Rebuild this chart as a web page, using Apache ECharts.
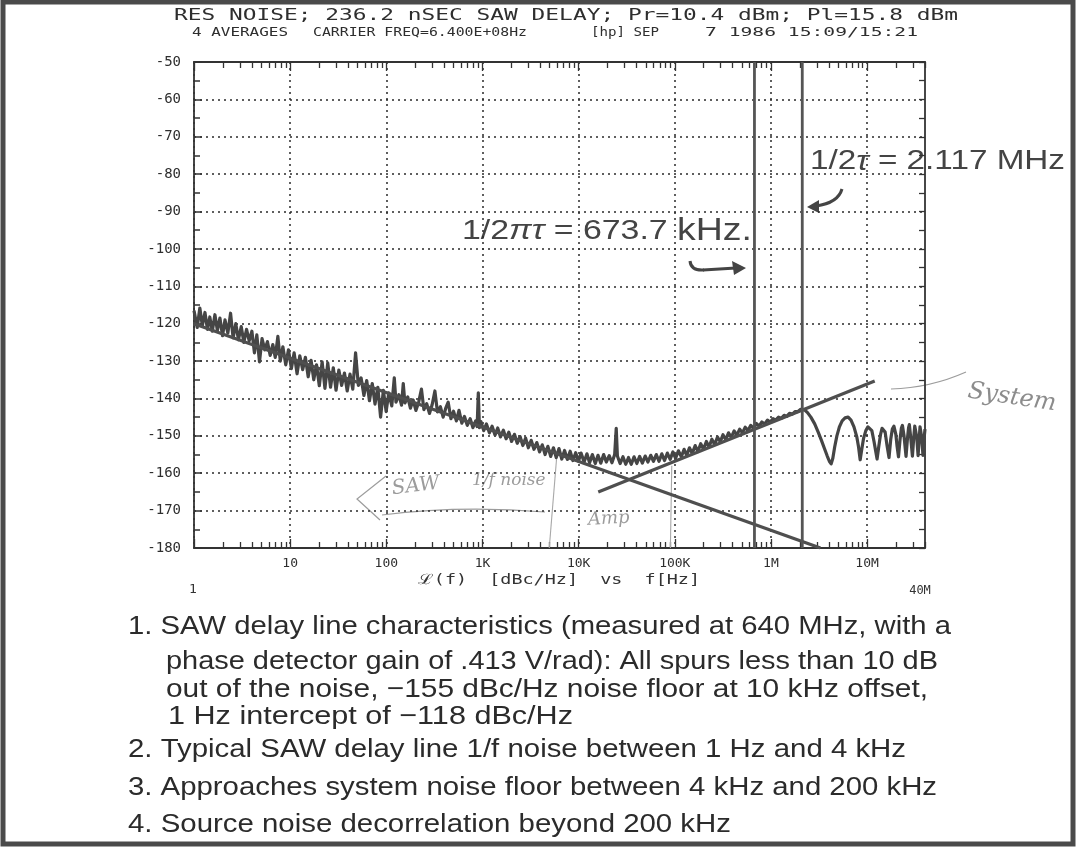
<!DOCTYPE html>
<html><head><meta charset="utf-8">
<script src="https://cdn.jsdelivr.net/npm/echarts@6/dist/echarts.min.js"></script>
<style>html,body{margin:0;padding:0;background:#fff}#c{width:1077px;height:849px}</style>
</head><body><div id="c"></div>
<script>
// ---------------- DATA ----------------
const xDecades = [1, 10, 100, 1e3, 1e4, 1e5, 1e6, 1e7];
const xLabelValues = [10, 100, 1e3, 1e4, 1e5, 1e6, 1e7];
const xLabelTexts = ['10', '100', '1K', '10K', '100K', '1M', '10M'];
const minorMultipliers = [2, 3, 4, 5, 6, 7, 8, 9];
const yMin = -180, yMax = -50, yStep = 10;

const traceFreq = [
  1.00,1.08,1.15,1.22,1.30,1.38,1.46,1.55,1.65,1.75,1.86,1.98,2.10,2.25,2.40,2.55,2.72,2.90,3.10,3.30,3.52,3.75,4.00,4.25,4.50,4.80,5.10,5.45,5.80,6.20,6.60,7.00,7.45,7.90,8.40,9.00,9.60,
  10.3,11.0,11.8,12.6,13.5,14.4,15.4,16.5,17.6,18.8,20.1,21.5,23.0,24.6,26.3,28.1,30.0,32.1,34.3,36.7,39.2,41.9,44.8,47.9,51.2,54.7,58.5,62.5,66.8,71.4,76.3,81.6,87.2,93.2,
  99.6,106,114,121,126,135,144,150,156,167,178,190,203,217,232,246,263,281,300,320,340,365,390,415,440,470,500,535,570,610,650,695,745,795,850,880,905,930,965,
  1030,1100,1180,1260,1350,1440,1540,1650,1760,1880,2010,2150,2300,2460,2630,2810,3000,3210,3430,3670,3920,4190,4480,4790,5120,5470,5850,6250,6680,7140,7630,8160,8720,9320,9960,
  10600,11400,12200,13000,13900,14900,15900,17000,18200,19400,20800,22200,23700,24600,25300,27000,28900,30900,33000,35300,37700,40300,43100,46000,49200,52600,56200,60000,64200,68600,73300,78300,83700,89500,95600,
  102000,109000,117000,125000,133000,142000,152000,163000,174000,186000,199000,213000,227000,243000,260000,278000,297000,317000,339000,362000,387000,414000,442000,473000,505000,540000,577000,617000,659000,705000,753000,805000,860000,919000,982000,
  1050000,1120000,1200000,1280000,1370000,1460000,1560000,1670000,1790000,1910000,2040000,2120000,2250000,2400000,2600000,2850000,3100000,3350000,3600000,3850000,4050000,4230000,4400000,4600000,4850000,5150000,5500000,5900000,6350000,6800000,7300000,7800000,8150000,8470000,8800000,9200000,9700000,
  10200000,10600000,11200000,11800000,12300000,12700000,13200000,13800000,14300000,14800000,15400000,16100000,16900000,17600000,18300000,19000000,19900000,20500000,21200000,22000000,22700000,23300000,24200000,25400000,26300000,27000000,27500000,28400000,29600000,30600000,31300000,31800000,32800000,33900000,34900000,35500000,36000000,37000000,38100000,39000000,40000000
];
const traceDb = [
  -116.5,-121.0,-115.8,-120.5,-117.0,-121.5,-118.2,-122.0,-117.6,-121.8,-118.5,-123.2,-119.0,-122.5,-117.2,-123.8,-120.0,-124.3,-120.8,-125.0,-121.5,-124.6,-122.0,-127.8,-123.0,-130.2,-124.0,-127.0,-124.8,-128.5,-125.6,-129.0,-123.4,-130.0,-126.2,-131.0,-127.0,
  -132.0,-127.8,-133.4,-128.6,-132.3,-129.0,-134.2,-129.8,-135.0,-131.0,-136.6,-130.2,-137.3,-130.5,-137.0,-131.8,-137.8,-132.4,-136.5,-133.2,-138.0,-133.5,-137.5,-127.8,-136.5,-134.5,-139.2,-135.2,-140.6,-136.0,-141.5,-137.0,-145.0,-137.8,
  -143.5,-138.5,-142.0,-134.5,-141.0,-139.0,-141.8,-136.0,-141.2,-139.6,-142.6,-140.4,-143.2,-141.0,-137.5,-143.0,-141.4,-144.0,-141.6,-138.0,-143.6,-142.2,-145.0,-142.6,-141.0,-145.4,-143.4,-146.0,-143.2,-146.6,-144.8,-147.2,-145.4,-147.8,-146.0,-147.5,-138.5,-147.8,-146.2,
  -148.6,-146.8,-149.2,-147.4,-149.8,-147.9,-150.3,-148.5,-150.8,-149.0,-151.5,-149.6,-152.0,-150.2,-152.6,-150.6,-153.2,-151.2,-153.6,-151.8,-154.3,-152.4,-155.0,-152.8,-155.5,-153.2,-155.8,-153.4,-156.2,-153.9,-156.3,-154.1,-156.6,-154.5,-156.8,
  -154.6,-157.0,-154.8,-157.2,-155.0,-157.4,-155.2,-157.3,-155.0,-157.0,-155.3,-157.2,-155.0,-148.0,-155.4,-157.4,-155.6,-157.6,-155.8,-157.6,-155.6,-157.4,-155.5,-157.3,-155.4,-157.0,-155.2,-156.8,-155.0,-156.8,-154.8,-156.6,-154.6,-156.3,-154.3,
  -156.0,-154.0,-155.6,-153.6,-155.2,-153.2,-154.7,-152.6,-154.2,-152.1,-153.6,-151.5,-153.0,-150.9,-152.3,-150.3,-151.6,-149.7,-151.0,-149.2,-150.4,-148.7,-149.8,-148.2,-149.2,-147.7,-148.6,-147.2,-148.0,-146.7,-147.4,-146.3,-146.9,-145.8,-146.3,
  -145.4,-145.8,-145.0,-145.3,-144.5,-144.8,-144.0,-144.2,-143.5,-143.5,-142.9,-142.8,-143.1,-143.8,-145.0,-146.8,-149.0,-151.2,-153.4,-155.4,-156.8,-157.5,-156.0,-153.0,-150.0,-147.6,-146.0,-145.2,-145.0,-145.8,-147.6,-150.2,-153.0,-156.4,-153.6,-150.6,-148.6,
  -147.6,-147.4,-148.6,-151.5,-154.2,-156.2,-153.0,-149.6,-148.0,-147.6,-149.0,-152.5,-155.8,-151.0,-148.2,-147.4,-149.6,-152.8,-155.6,-151.0,-148.0,-147.2,-150.0,-155.5,-150.6,-147.8,-147.0,-150.4,-155.4,-150.2,-147.4,-147.0,-150.3,-155.3,-150.4,-147.6,-147.2,-150.5,-155.2,-151.0,-148.2
];
// hand-drawn asymptotes
const sawFloorFreq = [1, 3.27e6];
const sawFloorDb = [-120, -180];
const systemFreq = [1.6e4, 1.2e7];
const systemDb = [-165, -135.3];
// vertical markers 1/2πτ and 1/2τ
const markerFreq = [673700, 2117000];
// pencil divider lines
const dividerFreq = [[5900, 4950], [93000, 90000]];
const dividerDb = [[-156, -180], [-158, -180]];

const titleLine1 = 'RES NOISE; 236.2 nSEC SAW DELAY; Pr=10.4 dBm; Pl=15.8 dBm';
const titleLine2 = ['4 AVERAGES', 'CARRIER FREQ=6.400E+08Hz', '[hp] SEP', '7 1986 15:09/15:21'];
const axisTitle = 'ℒ(f)  [dBc/Hz]  vs  f[Hz]';
const axisStart = '1', axisEnd = '40M';
const notes = [
  '1. SAW delay line characteristics (measured at 640 MHz, with a',
  'phase detector gain of .413 V/rad): All spurs less than 10 dB',
  'out of the noise, \u2212155 dBc/Hz noise floor at 10 kHz offset,',
  '1 Hz intercept of \u2212118 dBc/Hz',
  '2. Typical SAW delay line 1/f noise between 1 Hz and 4 kHz',
  '3. Approaches system noise floor between 4 kHz and 200 kHz',
  '4. Source noise decorrelation beyond 200 kHz'
];
const pencil = ['SAW', '1/f noise', 'Amp', 'System'];

// ---------------- LAYOUT / STYLE ----------------
const MONO = '"DejaVu Sans Mono", "Liberation Mono", monospace';
const SANS = '"Liberation Sans", Arial, sans-serif';
const INK = '#3c3c3c';
const cv = document.createElement('canvas').getContext('2d');
function measure(str, size, family, style, weight) {
  cv.font = (style || 'normal') + ' ' + (weight || 'normal') + ' ' + size + 'px ' + family;
  return cv.measureText(str).width;
}
function fitText(str, x, y, w, size, family, fill, extra) {
  const s = w / measure(str, size, family);
  return Object.assign({
    type: 'text', x: x, y: y, scaleX: s, silent: true,
    style: { text: str, x: 0, y: 0, fontSize: size, fontFamily: family, fill: fill || INK, align: 'left', verticalAlign: 'middle' }
  }, extra || {});
}

const noteLayout = [[128, 627, 823], [166, 662, 772], [166, 690, 762], [168, 717, 405], [128, 750, 778], [128, 788, 809], [128, 825, 603]];
const title2Layout = [[192, 33, 96], [313, 33, 214], [591, 33, 68], [705, 33, 213]];

const graphics = [];
graphics.push({ type: 'rect', silent: true, shape: { x: 3, y: 2, width: 1070, height: 842 }, style: { fill: null, stroke: '#4a4a4a', lineWidth: 5 } });
graphics.push(fitText(titleLine1, 174, 16, 784, 16, MONO, '#2e2e2e'));
titleLine2.forEach((t, i) => { const L = title2Layout[i]; graphics.push(fitText(t, L[0], L[1], L[2], 12, MONO, '#2e2e2e')); });
graphics.push(fitText(axisTitle, 418, 580, 282, 14, MONO, '#333'));
graphics.push({ type: 'text', x: 193, y: 590, silent: true, style: { text: axisStart, fontSize: 13, fontFamily: MONO, fill: '#333', align: 'center', verticalAlign: 'middle' } });
graphics.push({ type: 'text', x: 920, y: 591, silent: true, style: { text: axisEnd, fontSize: 12, fontFamily: MONO, fill: '#333', align: 'center', verticalAlign: 'middle' } });
notes.forEach((t, i) => { const L = noteLayout[i]; graphics.push(fitText(t, L[0], L[1], L[2], 26, SANS, '#2b2b2b')); });

// printed annotations
(function () {
  const parts1 = [['1/2', 'n', 28], ['πτ', 'i', 28], [' = 673.7 ', 'n', 28], ['kHz.', 'n', 31]];
  const parts2 = [['1/2', 'n', 27], ['τ', 'i', 27], [' = 2.117 MHz', 'n', 27]];
  function rich(parts, x, y, w) {
    let tw = 0; let txt = '';
    const richStyles = {};
    parts.forEach((p, k) => {
      tw += measure(p[0], p[2], SANS, p[1] === 'i' ? 'italic' : 'normal');
      richStyles['p' + k] = { fontSize: p[2], fontFamily: SANS, fontStyle: p[1] === 'i' ? 'italic' : 'normal', fill: '#444' };
      txt += '{p' + k + '|' + p[0] + '}';
    });
    return { type: 'text', x: x, y: y, scaleX: w / tw, silent: true, style: { text: txt, rich: richStyles, x: 0, y: 0, align: 'left', verticalAlign: 'middle', fill: '#444' } };
  }
  graphics.push(rich(parts1, 462, 231, 290));
  graphics.push(rich(parts2, 810, 162, 255));
})();
// printed arrows
function qcurve(x1, y1, cx, cy, x2, y2, stroke, w) {
  return { type: 'bezierCurve', silent: true, shape: { x1: x1, y1: y1, cpx1: cx, cpy1: cy, x2: x2, y2: y2 }, style: { fill: null, stroke: stroke, lineWidth: w } };
}
graphics.push(qcurve(690, 261, 691, 271, 704, 270, '#444', 3));
graphics.push({ type: 'line', silent: true, shape: { x1: 703, y1: 270, x2: 736, y2: 268 }, style: { stroke: '#444', lineWidth: 3 } });
graphics.push({ type: 'polygon', silent: true, shape: { points: [[746, 268], [732, 261], [734, 275]] }, style: { fill: '#444' } });
graphics.push(qcurve(842, 189, 838, 203, 816, 206, '#444', 3));
graphics.push({ type: 'polygon', silent: true, shape: { points: [[807, 207], [819, 200], [819, 213]] }, style: { fill: '#444' } });
// pencil notes
const PEN = '#9c9c9c';
const PENFONT = '"DejaVu Serif", serif';
graphics.push({ type: 'text', x: 392, y: 489, rotation: 0.12, silent: true, style: { text: pencil[0], fontSize: 20, fontFamily: PENFONT, fontStyle: 'italic', fill: PEN, align: 'left', verticalAlign: 'middle' } });
graphics.push({ type: 'text', x: 472, y: 481, silent: true, style: { text: pencil[1], fontSize: 17, fontFamily: PENFONT, fontStyle: 'italic', fill: PEN, align: 'left', verticalAlign: 'middle' } });
graphics.push({ type: 'text', x: 588, y: 520, rotation: 0.05, silent: true, style: { text: pencil[2], fontSize: 18, fontFamily: PENFONT, fontStyle: 'italic', fill: PEN, align: 'left', verticalAlign: 'middle' } });
graphics.push({ type: 'text', x: 968, y: 391, rotation: -0.15, silent: true, style: { text: pencil[3], fontSize: 24, fontFamily: PENFONT, fontStyle: 'italic', fill: '#8c8c8c', align: 'left', verticalAlign: 'middle' } });
graphics.push({ type: 'polyline', silent: true, shape: { points: [[386, 476], [357, 499], [380, 520]] }, style: { stroke: PEN, lineWidth: 1.2, fill: null } });
graphics.push(qcurve(382, 515, 460, 505, 545, 512, PEN, 1.2));
graphics.push(qcurve(891, 389, 930, 388, 966, 372, PEN, 1.2));

// ---------------- CHART ----------------
const minorTicks = [];
xDecades.forEach(d => minorMultipliers.forEach(m => { if (d * m <= 4e7) minorTicks.push(d * m); }));
const logFmt = v => xLabelTexts[xLabelValues.findIndex(t => Math.abs(Math.log10(t) - Math.log10(v)) < 1e-6)] || '';
const GRIDLINE = { show: true, lineStyle: { type: [2, 4], color: '#2a2a2a', width: 1.5 } };
function xAx(pos, ticks, len, extra) {
  return Object.assign({
    type: 'log', logBase: 10, min: 1, max: 4e7, position: pos,
    axisLine: { show: false },
    axisTick: { show: true, inside: true, length: len, customValues: ticks, lineStyle: { color: '#333', width: 1.3 } },
    axisLabel: { show: false }, splitLine: { show: false }
  }, extra || {});
}
const option = {
  animation: false,
  backgroundColor: '#fff',
  grid: { left: 194, top: 62, width: 731, height: 486, containLabel: false },
  xAxis: [
    xAx('bottom', xDecades, 9, {
      axisLine: { show: true, onZero: false, lineStyle: { color: '#333', width: 1.8 } },
      axisLabel: { show: true, customValues: xLabelValues, formatter: logFmt, fontFamily: MONO, fontSize: 13, color: '#2e2e2e', margin: 9 },
      splitLine: GRIDLINE
    }),
    xAx('bottom', minorTicks, 6),
    xAx('top', xDecades, 9, { axisLine: { show: true, onZero: false, lineStyle: { color: '#333', width: 1.8 } } }),
    xAx('top', minorTicks, 6)
  ],
  yAxis: [
    {
      type: 'value', min: yMin, max: yMax, interval: yStep, position: 'left',
      axisLine: { show: true, onZero: false, lineStyle: { color: '#333', width: 1.8 } },
      axisTick: { show: true, inside: true, length: 8, lineStyle: { color: '#333', width: 1.5 } },
      minorTick: { show: true, splitNumber: 2, length: 6, lineStyle: { color: '#333', width: 1.5 } },
      axisLabel: { fontFamily: MONO, fontSize: 14, color: '#2e2e2e', margin: 13 },
      splitLine: GRIDLINE
    },
    {
      type: 'value', min: yMin, max: yMax, interval: yStep, position: 'right',
      axisLine: { show: true, onZero: false, lineStyle: { color: '#333', width: 1.8 } },
      axisTick: { show: true, inside: true, length: 6, lineStyle: { color: '#333', width: 1.3 } },
      minorTick: { show: true, splitNumber: 2, length: 6, lineStyle: { color: '#333', width: 1.3 } },
      axisLabel: { show: false }, splitLine: { show: false }
    }
  ],
  series: [
    { type: 'line', name: 'noise', data: traceFreq.map((f, i) => [f, traceDb[i]]), symbol: 'none', lineStyle: { color: '#454545', width: 3.2, join: 'round' }, z: 4 },
    { type: 'line', name: 'saw', data: sawFloorFreq.map((f, i) => [f, sawFloorDb[i]]), symbol: 'none', lineStyle: { color: '#4f4f4f', width: 3.2 }, z: 5 },
    { type: 'line', name: 'system', data: systemFreq.map((f, i) => [f, systemDb[i]]), symbol: 'none', lineStyle: { color: '#4f4f4f', width: 3.2 }, z: 5 },
    ...markerFreq.map(f => ({ type: 'line', data: [[f, yMax], [f, yMin]], symbol: 'none', lineStyle: { color: '#555', width: 2.8 }, z: 6 })),
    ...dividerFreq.map((fs, k) => ({ type: 'line', data: fs.map((f, i) => [f, dividerDb[k][i]]), symbol: 'none', lineStyle: { color: '#a8a8a8', width: 1.1 }, z: 3 }))
  ],
  graphic: graphics
};
const chart = echarts.init(document.getElementById('c'), null, { renderer: 'canvas' });
chart.setOption(option);
</script>
</body></html>
